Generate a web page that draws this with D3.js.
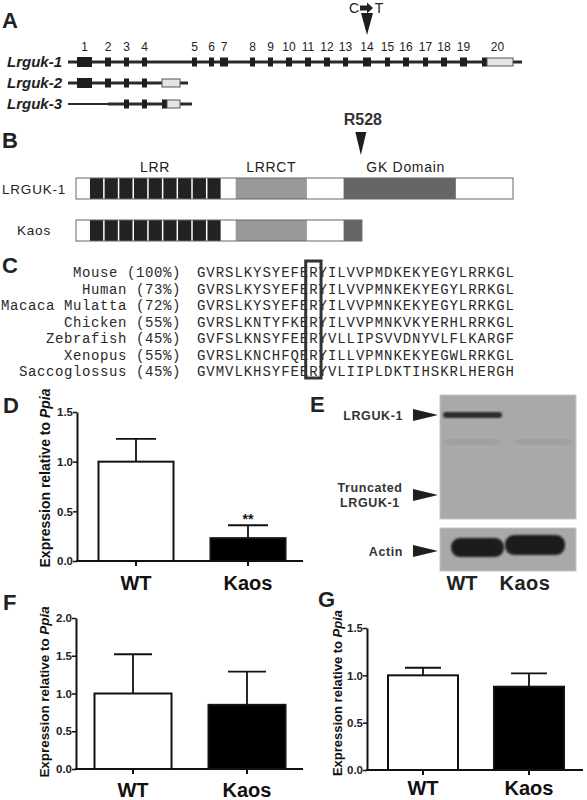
<!DOCTYPE html>
<html><head><meta charset="utf-8">
<script src="https://cdn.jsdelivr.net/npm/d3@7"></script>
<style>body{margin:0;background:#fff}svg{display:block}</style>
</head><body>
<svg id="c" width="587" height="800"></svg>
<script>
// ---------------- data ----------------
const groups = ["WT", "Kaos"];
const dValues = [1.0, 0.23], dErrors = [0.23, 0.13];
const fValues = [1.0, 0.85], fErrors = [0.52, 0.44];
const gValues = [1.0, 0.88], gErrors = [0.08, 0.14];
const dTicks = [0, 0.5, 1.0, 1.5];
const fTicks = [0, 0.5, 1.0, 1.5, 2.0];
const gTicks = [0, 0.5, 1.0, 1.5];

// Panel A: exons (diagram units)
const exonNumbers = d3.range(1, 21);
const exonStart = [9, 37, 56, 74, 124, 141, 152, 182, 200, 218, 237, 256, 275, 295, 317, 335, 355, 373, 392, 414];
const exonEnd   = [24, 43, 61, 79, 129, 146, 160, 187, 205, 224, 243, 262, 280, 303, 322, 341, 360, 379, 399, 419];
const utr1 = [419, 445];
const geneLength1 = 454, geneLength2 = 120, geneLength3 = 124;
const transcripts = ["Lrguk-1", "Lrguk-2", "Lrguk-3"];
const lrguk2Exons = [1, 2, 3, 4];
const lrguk2Utr = [94, 112];
const lrguk3Exons = [3, 4];
const lrguk3Thin = [0, 40];
const lrguk3Coding = [94, 99];
const lrguk3Utr = [99, 112];
const mutationExon = 14;

// Panel B: protein domains (residues)
const proteinLength = 810;
const kaosLength = 530;
const mutationResidue = 528;
const domainNames = ["LRR", "LRRCT", "GK Domain"];
const domainStart = [24, 296, 496];
const domainEnd = [269, 428, 704];
const lrrRepeats = 9;

// Panel C: alignment
const species = ["Mouse (100%)", "Human (73%)", "Macaca Mulatta (72%)", "Chicken (55%)", "Zebrafish (45%)", "Xenopus (55%)", "Saccoglossus (45%)"];
const sequences = [
  "GVRSLKYSYEFERYILVVPMDKEKYEGYLRRKGL",
  "GVRSLKYSYEFERYILVVPMNKEKYEGYLRRKGL",
  "GVRSLKYSYEFERYILVVPMNKEKYEGYLRRKGL",
  "GVRSLKNTYFKERYILVVPMNKVKYERHLRRKGL",
  "GVFSLKNSYFEERYVLLIPSVVDNYVLFLKARGF",
  "GVRSLKNCHFQERYILLVPMNKEKYEGWLRRKGL",
  "GVMVLKHSYFEERYVLIIPLDKTIHSKRLHERGH"
];
const boxedPosition = 12;

// Panel E: blot labels
const blotLabels = ["LRGUK-1", "Truncated LRGUK-1", "Actin"];

// ---------------- drawing ----------------
const svg = d3.select("#c");
const SANS = "'Liberation Sans', Arial, sans-serif";
const MONO = "'Liberation Mono', 'Courier New', monospace";

function panelLetter(t, x, y) {
  svg.append("text").attr("x", x).attr("y", y).text(t)
    .attr("font-family", SANS).attr("font-weight", "bold").attr("font-size", 22).attr("fill", "#222");
}
panelLetter("A", 2, 28); panelLetter("B", 2, 148); panelLetter("C", 2, 273);
panelLetter("D", 3, 413); panelLetter("E", 310, 412); panelLetter("F", 3, 610); panelLetter("G", 318, 607);

// ---- Panel A ----
const gx = d3.scaleLinear().domain([0, geneLength1]).range([68, 522]);
const rowY = d3.scalePoint().domain(transcripts).range([62, 104]);
const A = svg.append("g");
A.selectAll("text.tr").data(transcripts).join("text")
  .attr("x", 62).attr("y", d => rowY(d) + 5).attr("text-anchor", "end")
  .attr("font-family", SANS).attr("font-weight", "bold").attr("font-style", "italic")
  .attr("font-size", 15).attr("fill", "#222").text(d => d);
function gline(x0, x1, y, w) {
  A.append("line").attr("x1", gx(x0)).attr("x2", gx(x1)).attr("y1", y).attr("y2", y)
    .attr("stroke", "#2a2a2a").attr("stroke-width", w);
}
gline(0, geneLength1, rowY("Lrguk-1"), 3);
gline(0, geneLength2, rowY("Lrguk-2"), 3);
gline(lrguk3Thin[0], lrguk3Thin[1], rowY("Lrguk-3"), 2);
gline(lrguk3Thin[1], geneLength3, rowY("Lrguk-3"), 3);
function exon(x0, x1, y, h) {
  A.append("rect").attr("x", gx(x0)).attr("width", gx(x1) - gx(x0)).attr("y", y - h / 2).attr("height", h).attr("fill", "#1e1e1e");
}
function utr(x0, x1, y) {
  A.append("rect").attr("x", gx(x0)).attr("width", gx(x1) - gx(x0)).attr("y", y - 4).attr("height", 8)
    .attr("fill", "#e4e4e4").attr("stroke", "#555").attr("stroke-width", 1);
}
exonStart.forEach((s, i) => exon(s, exonEnd[i], rowY("Lrguk-1"), i === 0 ? 10 : 9));
utr(utr1[0], utr1[1], rowY("Lrguk-1"));
lrguk2Exons.forEach(n => exon(exonStart[n - 1], exonEnd[n - 1], rowY("Lrguk-2"), n === 1 ? 10 : 9));
utr(lrguk2Utr[0], lrguk2Utr[1], rowY("Lrguk-2"));
lrguk3Exons.forEach(n => exon(exonStart[n - 1], exonEnd[n - 1], rowY("Lrguk-3"), 9));
exon(lrguk3Coding[0], lrguk3Coding[1], rowY("Lrguk-3"), 9);
utr(lrguk3Utr[0], lrguk3Utr[1], rowY("Lrguk-3"));
A.selectAll("text.num").data(exonNumbers).join("text")
  .attr("x", (d, i) => i === 19 ? gx((exonStart[i] + utr1[1]) / 2) : gx((exonStart[i] + exonEnd[i]) / 2))
  .attr("y", 51).attr("text-anchor", "middle")
  .attr("font-family", SANS).attr("font-size", 12).attr("fill", "#222").text(d => d);
const mx = gx((exonStart[mutationExon - 1] + exonEnd[mutationExon - 1]) / 2);
A.append("path").attr("d", `M${mx - 6},13L${mx + 6},13L${mx},35Z`).attr("fill", "#1e1e1e");
A.append("text").attr("x", mx - 13).attr("y", 13).attr("text-anchor", "middle").attr("font-family", SANS).attr("font-size", 14).attr("fill", "#222").text("C");
A.append("text").attr("x", mx + 12).attr("y", 13).attr("text-anchor", "middle").attr("font-family", SANS).attr("font-size", 14).attr("fill", "#222").text("T");
A.append("path").attr("d", `M${mx - 7},5.5L${mx},5.5L${mx},2.5L${mx + 6},8L${mx},13.5L${mx},10.5L${mx - 7},10.5Z`)
  .attr("fill", "#222");

// ---- Panel B ----
const px = d3.scaleLinear().domain([0, proteinLength]).range([76, 513]);
const B = svg.append("g");
const colors = { "LRR": "#222", "LRRCT": "#999", "GK Domain": "#666" };
function protein(y, len) {
  B.append("rect").attr("x", px(0)).attr("width", px(len) - px(0)).attr("y", y).attr("height", 21).attr("fill", "#fff");
  domainNames.forEach((n, i) => {
    const s = domainStart[i], e = Math.min(domainEnd[i], len);
    if (e <= s) return;
    if (n === "LRR") {
      const w = (domainEnd[i] - domainStart[i]) / lrrRepeats;
      d3.range(lrrRepeats).forEach(k => {
        B.append("rect").attr("x", px(s + k * w) + 1).attr("width", px(s + (k + 1) * w) - px(s + k * w) - 1.5)
          .attr("y", y).attr("height", 21).attr("fill", colors[n]);
      });
    } else {
      B.append("rect").attr("x", px(s)).attr("width", px(e) - px(s)).attr("y", y).attr("height", 21).attr("fill", colors[n]);
    }
  });
  B.append("rect").attr("x", px(0)).attr("width", px(len) - px(0)).attr("y", y).attr("height", 21)
    .attr("fill", "none").attr("stroke", "#666").attr("stroke-width", 1);
}
protein(178, proteinLength);
protein(220, kaosLength);
B.selectAll("text.dom").data(domainNames).join("text")
  .attr("x", (d, i) => px((domainStart[i] + domainEnd[i]) / 2) + (i === 2 ? 6 : 0)).attr("y", 172)
  .attr("text-anchor", "middle").attr("font-family", SANS).attr("font-size", 14).attr("letter-spacing", 0.7)
  .attr("fill", "#222").text(d => d);
B.append("text").attr("x", 2).attr("y", 194).attr("font-family", SANS).attr("font-size", 13.5).attr("letter-spacing", 0.8).attr("fill", "#222").text("LRGUK-1");
B.append("text").attr("x", 17).attr("y", 235).attr("font-family", SANS).attr("font-size", 13.5).attr("letter-spacing", 0.8).attr("fill", "#222").text("Kaos");
const rx = px(mutationResidue);
B.append("path").attr("d", `M${rx - 5.5},132L${rx + 5.5},132L${rx},155Z`).attr("fill", "#1e1e1e");
B.append("text").attr("x", rx + 2).attr("y", 125).attr("text-anchor", "middle").attr("font-family", SANS).attr("font-weight", "bold").attr("font-size", 16).attr("fill", "#333").text("R528");

// ---- Panel C ----
const C = svg.append("g");
const cy = d3.scaleLinear().domain([0, species.length - 1]).range([277, 376]);
const labAdv = 9.0, seqAdv = 9.35, mfs = 14, cw = mfs * 0.6;
species.forEach((s, i) => {
  C.append("text").attr("x", 181 - s.length * labAdv).attr("y", cy(i))
    .attr("font-family", MONO).attr("font-size", mfs).attr("letter-spacing", labAdv - cw).attr("fill", "#2a2a2a").text(s);
  C.append("text").attr("x", 197).attr("y", cy(i))
    .attr("font-family", MONO).attr("font-size", mfs).attr("letter-spacing", seqAdv - cw).attr("fill", "#2a2a2a").text(sequences[i]);
});
C.append("rect").attr("x", 197 + boxedPosition * seqAdv - 3.5).attr("y", 261).attr("width", seqAdv + 6).attr("height", 117)
  .attr("fill", "none").attr("stroke", "#333").attr("stroke-width", 3);

// ---- bar charts ----
function barChart(o) {
  const g = svg.append("g");
  const x = d3.scalePoint().domain(groups).range(o.xRange).padding(0.5);
  const y = d3.scaleLinear().domain(o.yDomain).range(o.yRange);
  const y0 = y(0);
  const ax = g.append("g").attr("transform", `translate(${o.axisX},0)`)
    .call(d3.axisLeft(y).tickValues(o.ticks).tickFormat(d3.format(".1f")).tickSize(4).tickSizeOuter(0));
  ax.attr("font-family", SANS).attr("font-size", 11.5);
  ax.select(".domain").attr("stroke", "#111").attr("stroke-width", 2);
  ax.selectAll(".tick line").attr("stroke", "#111").attr("stroke-width", 1.5);
  ax.selectAll(".tick text").attr("font-family", SANS).attr("font-weight", "bold").attr("font-size", 11.5).attr("fill", "#222").attr("x", -4);
  g.append("line").attr("x1", o.axisX - 1).attr("x2", o.xEnd).attr("y1", y0).attr("y2", y0).attr("stroke", "#111").attr("stroke-width", 2);
  g.selectAll("line.xt").data(groups).join("line").attr("x1", d => x(d)).attr("x2", d => x(d))
    .attr("y1", y0).attr("y2", y0 + 5).attr("stroke", "#111").attr("stroke-width", 2);
  groups.forEach((d, i) => {
    const v = o.values[i], e = o.errors[i];
    g.append("line").attr("x1", x(d)).attr("x2", x(d)).attr("y1", y(v)).attr("y2", y(v + e)).attr("stroke", "#111").attr("stroke-width", 1.8);
    g.append("line").attr("x1", x(d) - o.cap / 2).attr("x2", x(d) + o.cap / 2).attr("y1", y(v + e)).attr("y2", y(v + e)).attr("stroke", "#111").attr("stroke-width", 1.8);
  });
  g.selectAll("rect.bar").data(groups).join("rect")
    .attr("x", d => x(d) - o.bw / 2).attr("width", o.bw)
    .attr("y", (d, i) => y(o.values[i])).attr("height", (d, i) => y0 - y(o.values[i]))
    .attr("fill", (d, i) => i === 0 ? "#fff" : "#000").attr("stroke", "#111").attr("stroke-width", 2);
  g.selectAll("text.cat").data(groups).join("text").attr("x", d => x(d)).attr("y", o.labelY)
    .attr("text-anchor", "middle").attr("font-family", SANS).attr("font-weight", "bold").attr("font-size", 20).attr("fill", "#111").text(d => d);
  const yl = g.append("text").attr("transform", `translate(${o.ylx},${o.yly}) rotate(-90)`)
    .attr("text-anchor", "middle").attr("font-family", SANS).attr("font-weight", "bold").attr("font-size", o.ylfs).attr("fill", "#111");
  yl.append("tspan").text("Expression relative to ");
  yl.append("tspan").attr("font-style", "italic").text("Ppia");
  if (o.star) {
    g.append("text").attr("x", x(groups[1])).attr("y", y(o.values[1] + o.errors[1]) - 1).attr("text-anchor", "middle")
      .attr("font-family", SANS).attr("font-weight", "bold").attr("font-size", 14).attr("fill", "#111").text(o.star);
  }
}
barChart({ values: dValues, errors: dErrors, ticks: dTicks, yDomain: [0, 1.5], yRange: [561, 412], axisX: 77, xRange: [80, 304], xEnd: 303, bw: 75, cap: 40, labelY: 590, ylx: 50, yly: 478, ylfs: 14, star: "**" });
barChart({ values: fValues, errors: fErrors, ticks: fTicks, yDomain: [0, 2], yRange: [769, 618], axisX: 76, xRange: [76, 304], xEnd: 303, bw: 77, cap: 38, labelY: 797, ylx: 49, yly: 692, ylfs: 13.4 });
barChart({ values: gValues, errors: gErrors, ticks: gTicks, yDomain: [0, 1.5], yRange: [770, 628], axisX: 367, xRange: [370, 582], xEnd: 583, bw: 70, cap: 36, labelY: 795, ylx: 342, yly: 693, ylfs: 13 });

// ---- Panel E: western blot ----
const E = svg.append("g");
const defs = svg.append("defs");
defs.append("filter").attr("id", "blur").append("feGaussianBlur").attr("stdDeviation", 1.2);
defs.append("filter").attr("id", "blur2").append("feGaussianBlur").attr("stdDeviation", 2.5);
E.append("rect").attr("x", 440).attr("y", 395).attr("width", 136).attr("height", 124).attr("fill", "#a9a9a9").attr("stroke", "#c4c4c4");
E.append("rect").attr("x", 440).attr("y", 528).attr("width", 136).attr("height", 43).attr("fill", "#a9a9a9").attr("stroke", "#c4c4c4");
E.append("rect").attr("x", 444).attr("y", 440).attr("width", 55).attr("height", 4).attr("fill", "#979797").attr("filter", "url(#blur2)");
E.append("rect").attr("x", 515).attr("y", 440).attr("width", 57).attr("height", 4).attr("fill", "#979797").attr("filter", "url(#blur2)");
E.append("rect").attr("x", 443).attr("y", 412).attr("width", 59).attr("height", 6).attr("rx", 3).attr("fill", "#2a2a2a").attr("filter", "url(#blur)");
E.append("rect").attr("x", 451).attr("y", 538).attr("width", 53).attr("height", 19).attr("rx", 9).attr("fill", "#1c1c1c").attr("filter", "url(#blur)");
E.append("rect").attr("x", 505).attr("y", 535).attr("width", 60).attr("height", 20).attr("rx", 9).attr("fill", "#1c1c1c").attr("filter", "url(#blur)");
function arrowR(y) {
  E.append("path").attr("d", `M413,${y - 6}L438,${y}L413,${y + 6}Z`).attr("fill", "#1e1e1e");
}
arrowR(415); arrowR(495); arrowR(551);
const lab = { "font-family": SANS, "font-weight": "bold", "font-size": 12.5, "fill": "#333", "letter-spacing": 0.6 };
function etext(t, x, y, anchor) {
  const el = E.append("text").attr("x", x).attr("y", y).attr("text-anchor", anchor).text(t);
  Object.entries(lab).forEach(([k, v]) => el.attr(k, v));
}
etext(blotLabels[0], 403, 420, "end");
etext("Truncated", 370, 492, "middle");
etext("LRGUK-1", 370, 507, "middle");
etext(blotLabels[2], 403, 556, "end");
E.append("text").attr("x", 462).attr("y", 590).attr("text-anchor", "middle").attr("font-family", SANS).attr("font-weight", "bold").attr("font-size", 20).attr("fill", "#222").text("WT");
E.append("text").attr("x", 525).attr("y", 590).attr("text-anchor", "middle").attr("font-family", SANS).attr("font-weight", "bold").attr("font-size", 20).attr("letter-spacing", 0.5).attr("fill", "#222").text("Kaos");
</script>
</body></html>
